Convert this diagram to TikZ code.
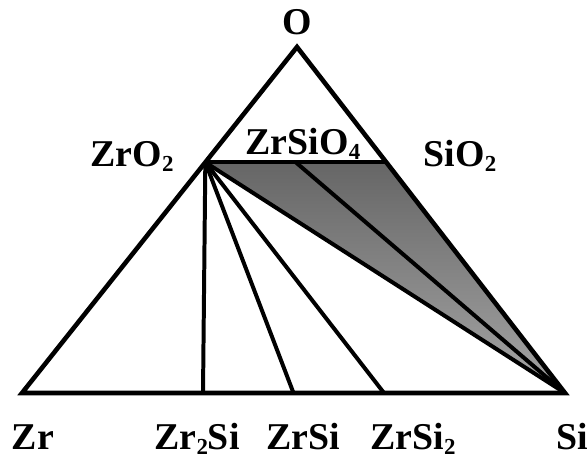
\documentclass[tikz,border=0pt]{standalone}
\usepackage{fontspec}
\setmainfont{Liberation Serif}
\usetikzlibrary{calc}
\newcommand{\subn}[1]{\raisebox{-0.25ex}{\fontsize{23}{23}\selectfont #1}}

\begin{document}
\begin{tikzpicture}[x=1bp,y=1bp,
  edge/.style={line width=4.6pt},
  tie/.style={line width=4pt},
  lbl/.style={font=\fontsize{38}{44}\selectfont\bfseries, anchor=base, inner sep=0pt}]

\useasboundingbox (0,0) rectangle (588,461);

% ===== corners of the Zr-O-Si triangle =====
\coordinate (Zr) at (22,68);
\coordinate (Si) at (565,68);
\coordinate (O) at (297,414);

% ===== compounds on the edges =====
\coordinate (ZrO2) at ($(Zr)!2/3!(O)$);
\coordinate (SiO2) at ($(Si)!2/3!(O)$);
\coordinate (ZrSiO4) at ($(ZrO2)!0.5!(SiO2)$);
\coordinate (Zr2Si) at ($(Zr)!1/3!(Si)$);
\coordinate (ZrSi) at ($(Zr)!1/2!(Si)$);
\coordinate (ZrSi2) at ($(Zr)!2/3!(Si)$);

% ===== shaded three-phase field =====
\shade[top color=black!60, bottom color=black!35] (ZrO2) -- (SiO2) -- (Si) -- cycle;

% ===== tie lines =====
\draw[tie] (ZrO2) -- (SiO2);
\draw[tie] (ZrSiO4) -- (Si);
\foreach \p in {Zr2Si,ZrSi,ZrSi2,Si}
  \draw[tie] (ZrO2) -- (\p);

\draw[edge] (Zr) -- (Si) -- (O) -- cycle;

% ===== labels =====
\node[lbl] (lO) at (297,426) {O};
\node[lbl] (lZrO2) at (132,294) {ZrO\subn{2}};
\node[lbl] (lZrSiO4) at (303,306) {ZrSiO\subn{4}};
\node[lbl] (lSiO2) at (460,294) {SiO\subn{2}};
\node[lbl] (lZr) at (33,11) {Zr};
\node[lbl] (lZr2Si) at (197,11) {Zr\subn{2}Si};
\node[lbl] (lZrSi) at (303,11) {ZrSi};
\node[lbl] (lZrSi2) at (413,11) {ZrSi\subn{2}};
\node[lbl] (lSi) at (572,11) {Si};

\end{tikzpicture}
\end{document}
